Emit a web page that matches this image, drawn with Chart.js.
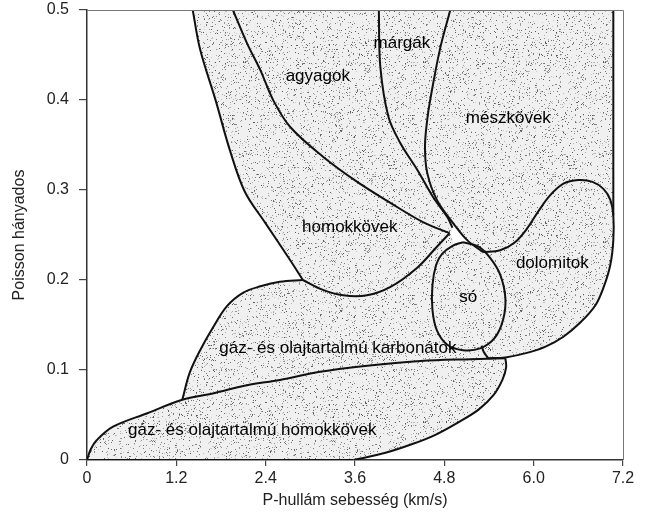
<!DOCTYPE html>
<html>
<head>
<meta charset="utf-8">
<script src="https://cdn.jsdelivr.net/npm/chart.js@4.4.0/dist/chart.umd.min.js"></script>
<style>
  html, body { margin: 0; padding: 0; background: #fff; }
  #wrap { width: 646px; height: 531px; }
</style>
</head>
<body>
<div id="wrap"><canvas id="chart" width="646" height="531"></canvas></div>
<script>
const xTicks = [0, 1.2, 2.4, 3.6, 4.8, 6.0, 7.2];
const yTicks = [0, 0.1, 0.2, 0.3, 0.4, 0.5];

// boundary curves as [P velocity km/s, Poisson ratio]
const sandstoneLeft = [[1.42, 0.5], [1.52, 0.456], [1.73, 0.399], [1.92, 0.344], [2.12, 0.298], [2.39, 0.264], [2.73, 0.222], [2.90, 0.2]];
const sandstoneBase = [[2.90, 0.2], [3.17, 0.189], [3.44, 0.183], [3.76, 0.183], [4.07, 0.192], [4.44, 0.214], [4.70, 0.237], [4.87, 0.252]];
const shaleBase = [[1.96, 0.5], [2.15, 0.463], [2.33, 0.433], [2.50, 0.4], [2.73, 0.37], [3.17, 0.337], [3.63, 0.309], [4.07, 0.286], [4.52, 0.264], [4.87, 0.252]];
const marlLeft = [[3.92, 0.5], [3.94, 0.437], [4.05, 0.381], [4.21, 0.352], [4.44, 0.322], [4.65, 0.292], [4.84, 0.27], [4.91, 0.258]];
const marlRight = [[4.88, 0.5], [4.74, 0.456], [4.61, 0.4], [4.57, 0.378], [4.54, 0.348], [4.57, 0.319], [4.70, 0.289], [4.92, 0.263], [5.11, 0.244], [5.32, 0.231]];
const dolomiteEdge = [[5.32, 0.231], [5.55, 0.233], [5.75, 0.242], [5.91, 0.257], [6.06, 0.276], [6.22, 0.294], [6.40, 0.307], [6.60, 0.311], [6.79, 0.309], [6.94, 0.301], [7.03, 0.289], [7.07, 0.272], [7.07, 0.244], [7.03, 0.217], [6.94, 0.192], [6.83, 0.172], [6.63, 0.153], [6.40, 0.137], [6.16, 0.126], [5.91, 0.119], [5.62, 0.114], [5.39, 0.113]];
const saltEdge = [[5.05, 0.242], [5.26, 0.237], [5.42, 0.224], [5.55, 0.206], [5.62, 0.18], [5.59, 0.156], [5.48, 0.136], [5.28, 0.124], [5.05, 0.122], [4.84, 0.128], [4.70, 0.144], [4.64, 0.167], [4.64, 0.194], [4.69, 0.217], [4.77, 0.229], [4.91, 0.238], [5.05, 0.242]];
const saltLink = [[5.30, 0.127], [5.33, 0.12], [5.39, 0.113]];
const carbonateLeft = [[1.28, 0.067], [1.38, 0.097], [1.52, 0.122], [1.69, 0.147], [1.88, 0.171], [2.10, 0.186], [2.33, 0.193], [2.59, 0.198], [2.90, 0.2]];
const gasSandTop = [[0, 0], [0.05, 0.012], [0.13, 0.022], [0.35, 0.037], [0.81, 0.052], [1.28, 0.067], [1.69, 0.074], [2.15, 0.083], [2.59, 0.089], [3.13, 0.098], [3.67, 0.104], [4.48, 0.11], [5.15, 0.112], [5.62, 0.113]];
const gasSandRight = [[5.62, 0.113], [5.63, 0.103], [5.58, 0.089], [5.46, 0.072], [5.26, 0.056], [4.97, 0.041], [4.68, 0.028], [4.38, 0.018], [4.01, 0.008], [3.58, 0]];
const gasSandBase = [[0, 0], [3.58, 0]];
const topEdge = [[1.42, 0.5], [7.07, 0.5]];
const limestoneRight = [[7.07, 0.5], [7.07, 0.272]];

const regionNames = ['agyagok', 'márgák', 'mészkövek', 'homokkövek', 'dolomitok', 'só', 'gáz- és olajtartalmú karbonátok', 'gáz- és olajtartalmú homokkövek'];
const labelX = [3.10, 4.23, 5.66, 3.53, 6.25, 5.12, 3.37, 2.22];
const labelY = [0.426, 0.463, 0.380, 0.258, 0.218, 0.181, 0.124, 0.033];

const FONT = '"Liberation Sans", Arial, sans-serif';
const rev = arr => [...arr].reverse();
const pts = arr => arr.map(([x, y]) => ({ x, y }));

// closed outlines of each field
const regions = [
  [...sandstoneLeft, ...sandstoneBase.slice(1), ...rev(shaleBase).slice(1)],
  [...shaleBase, ...rev(marlLeft)],
  [...marlLeft, ...rev(marlRight.slice(0, 8))],
  [...marlRight, ...dolomiteEdge.slice(1, 12), [7.07, 0.5]],
  [...dolomiteEdge, ...rev(saltLink).slice(1), ...rev(saltEdge.slice(1, 8))],
  saltEdge,
  [...carbonateLeft, ...sandstoneBase.slice(1), ...rev(saltEdge.slice(7, 16)), ...saltLink, ...rev(gasSandTop.slice(5, 13))],
  [...gasSandTop, ...gasSandRight.slice(1)]
];
const outlines = [sandstoneLeft, sandstoneBase, shaleBase, marlLeft, marlRight, dolomiteEdge, saltEdge, saltLink,
  carbonateLeft, gasSandTop, gasSandRight, gasSandBase, topEdge, limestoneRight];

function makeStipple(ctx) {
  const c = document.createElement('canvas');
  c.width = 180; c.height = 180;
  const g = c.getContext('2d');
  g.fillStyle = '#f0f0f0';
  g.fillRect(0, 0, 180, 180);
  let seed = 12345;
  const next = () => (seed = (seed * 16807) % 2147483647) / 2147483647;
  for (let i = 0; i < 3400; i++) {
    const v = 80 + Math.floor(next() * 130);
    g.fillStyle = `rgb(${v},${v},${v})`;
    g.fillRect(Math.floor(next() * 180), Math.floor(next() * 180), 1, 1);
  }
  return ctx.createPattern(c, 'repeat');
}

const frame = {
  id: 'frame',
  afterDatasetsDraw(chart) {
    const { ctx, chartArea: a } = chart;
    ctx.save();
    ctx.strokeStyle = '#777';
    ctx.lineWidth = 1;
    ctx.beginPath();
    ctx.moveTo(a.left, a.top + 0.5);
    ctx.lineTo(a.right + 0.5, a.top + 0.5);
    ctx.lineTo(a.right + 0.5, a.bottom);
    ctx.stroke();
    ctx.restore();
  }
};

const regionLabels = {
  id: 'regionLabels',
  afterDatasetsDraw(chart) {
    const { ctx, scales: { x, y } } = chart;
    ctx.save();
    ctx.font = `17px ${FONT}`;
    ctx.fillStyle = '#000';
    ctx.textAlign = 'center';
    ctx.textBaseline = 'middle';
    regionNames.forEach((name, i) => {
      ctx.fillText(name, x.getPixelForValue(labelX[i]), y.getPixelForValue(labelY[i]));
    });
    ctx.restore();
  }
};

const canvas = document.getElementById('chart');
const stipple = makeStipple(canvas.getContext('2d'));

const datasets = [
  ...regions.map(r => ({
    data: pts(r), showLine: true, fill: 'shape', backgroundColor: stipple,
    borderWidth: 0, pointRadius: 0, tension: 0.35, order: 2
  })),
  ...outlines.map(o => ({
    data: pts(o), showLine: true, fill: false, borderColor: '#111',
    borderWidth: 2, pointRadius: 0, tension: 0.35, order: 1
  }))
];

new Chart(canvas, {
  type: 'scatter',
  data: { datasets },
  options: {
    responsive: false,
    animation: false,
    events: [],
    layout: { padding: { left: 0, top: 10, right: 23, bottom: 0 } },
    plugins: { legend: { display: false }, tooltip: { enabled: false } },
    scales: {
      x: {
        type: 'linear', min: 0, max: 7.2,
        afterBuildTicks: s => { s.ticks = xTicks.map(value => ({ value })); },
        afterFit: s => { s.height = 71; s.paddingLeft = 0; s.paddingRight = 0; },
        ticks: {
          autoSkip: false, maxRotation: 0, padding: 3, color: '#222',
          font: { family: FONT, size: 16 },
          callback: v => (v === 0 ? '0' : v.toFixed(1))
        },
        grid: { drawOnChartArea: false, tickLength: 6, color: '#444', lineWidth: 1.2 },
        border: { color: '#333', width: 1.5 },
        title: {
          display: true, text: 'P-hullám sebesség (km/s)', color: '#222',
          font: { family: FONT, size: 16 }, padding: { top: 0, bottom: 21 }
        }
      },
      y: {
        type: 'linear', min: 0, max: 0.5,
        afterBuildTicks: s => { s.ticks = yTicks.map(value => ({ value })); },
        afterFit: s => { s.width = 87; s.paddingTop = 0; s.paddingBottom = 0; },
        ticks: {
          padding: 10, color: '#222',
          font: { family: FONT, size: 16 },
          callback: v => (v === 0 ? '0' : v.toFixed(1))
        },
        grid: { drawOnChartArea: false, tickLength: 8, color: '#444', lineWidth: 1.2 },
        border: { color: '#333', width: 1.5 },
        title: {
          display: true, text: 'Poisson hányados', color: '#222',
          font: { family: FONT, size: 16 }, padding: { top: 10, bottom: 0 }
        }
      }
    }
  },
  plugins: [frame, regionLabels]
});
</script>
</body>
</html>
